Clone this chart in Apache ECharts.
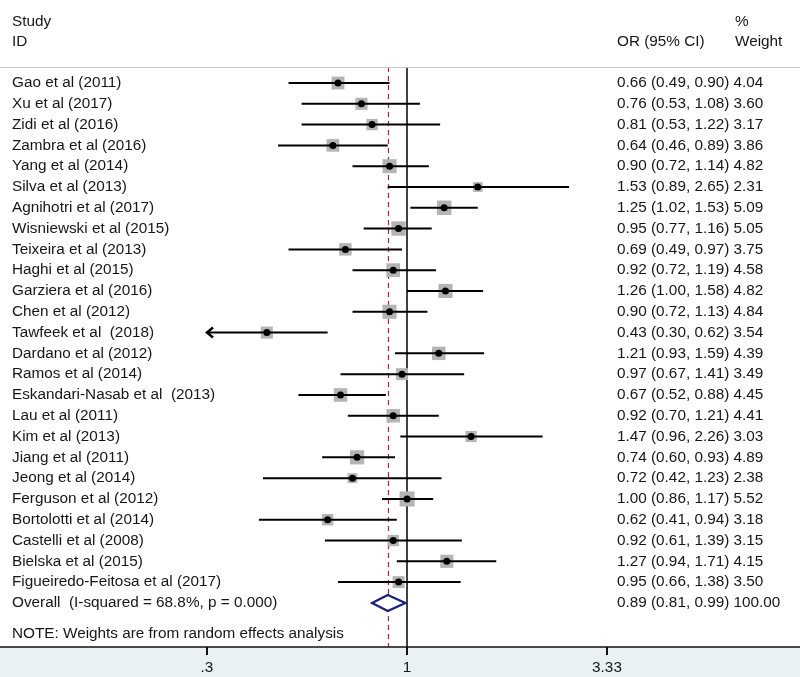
<!DOCTYPE html>
<html>
<head>
<meta charset="utf-8">
<script src="https://cdn.jsdelivr.net/npm/echarts@6/dist/echarts.min.js"></script>
<style>html,body{margin:0;padding:0;background:#fff;}#chart{width:800px;height:677px;}</style>
</head>
<body>
<div id="chart"></div>
<script>
const studies = [
  "Gao et al (2011)", "Xu et al (2017)", "Zidi et al (2016)", "Zambra et al (2016)",
  "Yang et al (2014)", "Silva et al (2013)", "Agnihotri et al (2017)", "Wisniewski et al (2015)",
  "Teixeira et al (2013)", "Haghi et al (2015)", "Garziera et al (2016)", "Chen et al (2012)",
  "Tawfeek et al  (2018)", "Dardano et al (2012)", "Ramos et al (2014)", "Eskandari-Nasab et al  (2013)",
  "Lau et al (2011)", "Kim et al (2013)", "Jiang et al (2011)", "Jeong et al (2014)",
  "Ferguson et al (2012)", "Bortolotti et al (2014)", "Castelli et al (2008)", "Bielska et al (2015)",
  "Figueiredo-Feitosa et al (2017)"
];
const orVals = [0.66,0.76,0.81,0.64,0.90,1.53,1.25,0.95,0.69,0.92,1.26,0.90,0.43,1.21,0.97,0.67,0.92,1.47,0.74,0.72,1.00,0.62,0.92,1.27,0.95];
const loVals = [0.49,0.53,0.53,0.46,0.72,0.89,1.02,0.77,0.49,0.72,1.00,0.72,0.30,0.93,0.67,0.52,0.70,0.96,0.60,0.42,0.86,0.41,0.61,0.94,0.66];
const hiVals = [0.90,1.08,1.22,0.89,1.14,2.65,1.53,1.16,0.97,1.19,1.58,1.13,0.62,1.59,1.41,0.88,1.21,2.26,0.93,1.23,1.17,0.94,1.39,1.71,1.38];
const weights = [4.04,3.60,3.17,3.86,4.82,2.31,5.09,5.05,3.75,4.58,4.82,4.84,3.54,4.39,3.49,4.45,4.41,3.03,4.89,2.38,5.52,3.18,3.15,4.15,3.50];
const overallLabel = "Overall  (I-squared = 68.8%, p = 0.000)";
const overall = {or: 0.89, lo: 0.81, hi: 0.99, weight: 100.00};
const noteText = "NOTE: Weights are from random effects analysis";
const tickVals = [0.3, 1, 3.33];
const tickLabels = [".3", "1", "3.33"];

const L = Math.log10;
const FONT = 'Liberation Sans, Arial, sans-serif';
const FS = 15.3;
const TXT = '#161616';
const xMin = L(tickVals[0]), xMax = L(tickVals[tickVals.length - 1]);

function fmt(v){ return v.toFixed(2); }
function orText(o, lo, hi, w){ return fmt(o) + ' (' + fmt(lo) + ', ' + fmt(hi) + ') ' + w.toFixed(2); }

const studyData = studies.map((s, i) => [L(orVals[i]), L(loVals[i]), L(hiVals[i]), i, weights[i]]);
const overallRow = studies.length;
const noteRow = studies.length + 1.5;

const chart = echarts.init(document.getElementById('chart'), null, {renderer: 'canvas'});

const option = {
  animation: false,
  backgroundColor: '#ffffff',
  grid: {left: 207, right: 193, top: 67, bottom: 30},
  xAxis: {
    type: 'value', min: xMin, max: xMax, position: 'bottom',
    axisLine: {show: false, onZero: false}, splitLine: {show: false},
    axisTick: {show: true, customValues: tickVals.map(L), length: 8, lineStyle: {color: '#111', width: 2}},
    axisLabel: {
      customValues: tickVals.map(L), margin: 13,
      fontFamily: FONT, fontSize: FS, color: TXT,
      formatter: function(v){
        let best = 0, d = Infinity;
        tickVals.forEach((t, k) => { const dd = Math.abs(L(t) - v); if (dd < d){ d = dd; best = k; } });
        return tickLabels[best];
      }
    }
  },
  yAxis: {type: 'value', inverse: true, min: -0.77, max: 27.12, show: false},
  graphic: [
    {type: 'rect', z: -10, shape: {x: 0, y: 647, width: 800, height: 30}, style: {fill: '#eaf1f3'}},
    {type: 'line', z: 10, shape: {x1: 0, y1: 647, x2: 800, y2: 647}, style: {stroke: '#111', lineWidth: 1.5}},
    {type: 'line', z: 10, shape: {x1: 0, y1: 67.5, x2: 800, y2: 67.5}, style: {stroke: '#c8c8c8', lineWidth: 1}},
    {type: 'text', x: 12, y: 22, style: {text: 'Study', font: FS + 'px ' + FONT, fill: TXT, verticalAlign: 'middle'}},
    {type: 'text', x: 12, y: 42, style: {text: 'ID', font: FS + 'px ' + FONT, fill: TXT, verticalAlign: 'middle'}},
    {type: 'text', x: 617, y: 42, style: {text: 'OR (95% CI)', font: FS + 'px ' + FONT, fill: TXT, verticalAlign: 'middle'}},
    {type: 'text', x: 735, y: 22, style: {text: '%', font: FS + 'px ' + FONT, fill: TXT, verticalAlign: 'middle'}},
    {type: 'text', x: 735, y: 42, style: {text: 'Weight', font: FS + 'px ' + FONT, fill: TXT, verticalAlign: 'middle'}}
  ],
  series: [
    {
      type: 'custom',
      clip: false,
      z: 5,
      data: studyData,
      renderItem: function(params, api){
        const i = params.dataIndex;
        const y = api.coord([0, api.value(3)])[1];
        const pc = api.coord([api.value(0), api.value(3)]);
        const lo = api.value(1), hi = api.value(2);
        const arrowLeft = lo <= xMin + 1e-9;
        const loC = api.coord([Math.max(lo, xMin), api.value(3)]);
        const hiC = api.coord([Math.min(hi, xMax), api.value(3)]);
        const sz = 6.4 * Math.sqrt(api.value(4));
        const children = [
          {type: 'rect', shape: {x: pc[0] - sz/2, y: y - sz/2, width: sz, height: sz}, style: {fill: '#b4b4b4'}},
          {type: 'line', shape: {x1: loC[0], y1: y, x2: hiC[0], y2: y}, style: {stroke: '#000', lineWidth: 2}},
          {type: 'circle', shape: {cx: pc[0], cy: y, r: 3.5}, style: {fill: '#000'}},
          {type: 'text', x: 12, y: y, style: {text: studies[i], font: FS + 'px ' + FONT, fill: TXT, verticalAlign: 'middle'}},
          {type: 'text', x: 617, y: y, style: {text: orText(orVals[i], loVals[i], hiVals[i], weights[i]), font: FS + 'px ' + FONT, fill: TXT, verticalAlign: 'middle'}}
        ];
        if (arrowLeft){
          children.push({type: 'polyline', shape: {points: [[loC[0] + 6, y - 5], [loC[0], y], [loC[0] + 6, y + 5]]}, style: {stroke: '#000', lineWidth: 2.5, fill: null}});
        }
        return {type: 'group', children: children};
      },
      markLine: {
        silent: true, symbol: 'none', label: {show: false},
        data: [
          {xAxis: L(1), lineStyle: {color: '#000', width: 1.5, type: 'solid'}},
          {xAxis: L(overall.or), lineStyle: {color: '#a3283f', width: 1.2, type: [5, 4]}}
        ]
      }
    },
    {
      type: 'custom',
      clip: false,
      z: 6,
      data: [[L(overall.or), L(overall.lo), L(overall.hi), overallRow, overall.weight]],
      renderItem: function(params, api){
        const c = api.coord([api.value(0), api.value(3)]);
        const l = api.coord([api.value(1), api.value(3)]);
        const r = api.coord([api.value(2), api.value(3)]);
        const h = 8;
        return {type: 'group', children: [
          {type: 'polygon', shape: {points: [[l[0], c[1]], [c[0], c[1] - h], [r[0], c[1]], [c[0], c[1] + h]]}, style: {fill: '#fff', stroke: '#1c1c7c', lineWidth: 2.2}},
          {type: 'text', x: 12, y: c[1], style: {text: overallLabel, font: FS + 'px ' + FONT, fill: TXT, verticalAlign: 'middle'}},
          {type: 'text', x: 617, y: c[1], style: {text: orText(overall.or, overall.lo, overall.hi, overall.weight), font: FS + 'px ' + FONT, fill: TXT, verticalAlign: 'middle'}}
        ]};
      }
    },
    {
      type: 'custom',
      clip: false,
      z: 6,
      data: [[0, noteRow]],
      renderItem: function(params, api){
        const c = api.coord([api.value(0), api.value(1)]);
        return {type: 'text', x: 12, y: c[1], style: {text: noteText, font: FS + 'px ' + FONT, fill: TXT, verticalAlign: 'middle'}};
      }
    }
  ]
};
chart.setOption(option);
</script>
</body>
</html>
